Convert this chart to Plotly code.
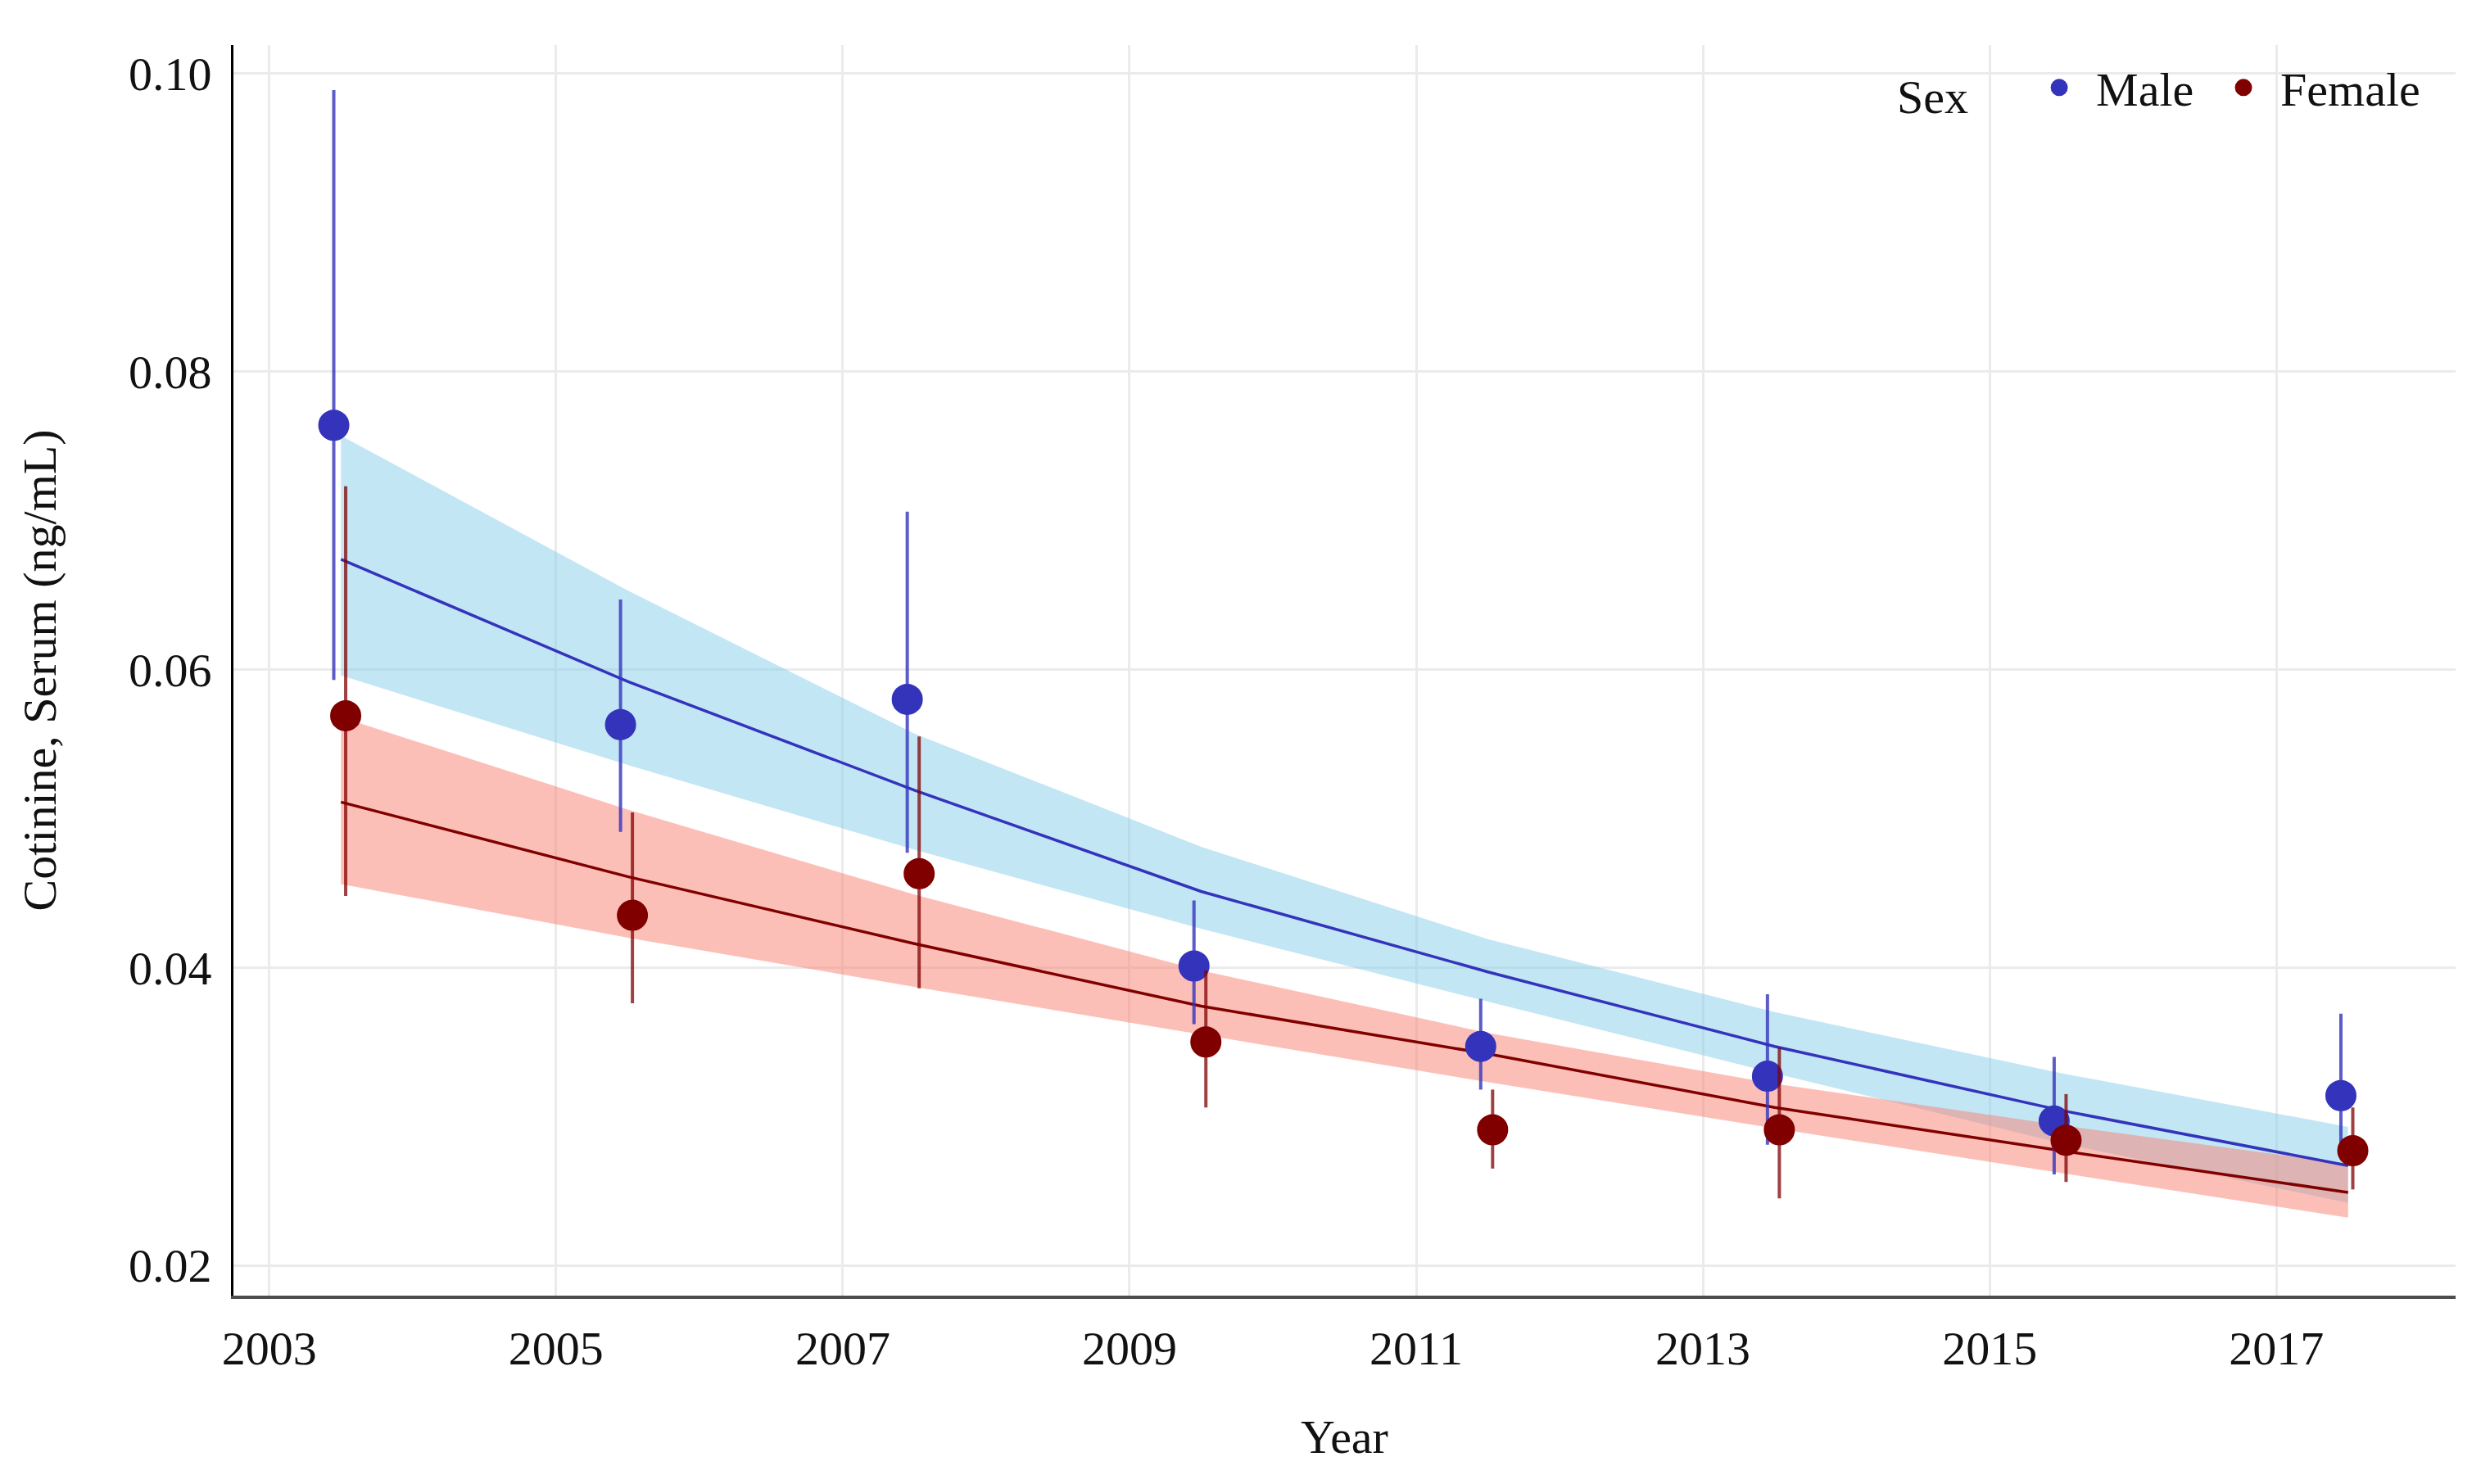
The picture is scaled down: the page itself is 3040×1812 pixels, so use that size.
import plotly.graph_objects as go

# ---- data ----
cycle_year = [2003.5, 2005.5, 2007.5, 2009.5, 2011.5, 2013.5, 2015.5, 2017.5]

male_mean = [0.0764, 0.0563, 0.0580, 0.0401, 0.0347, 0.0327, 0.0297, 0.0314]
male_hi   = [0.0989, 0.0647, 0.0706, 0.0445, 0.0379, 0.0382, 0.0340, 0.0369]
male_lo   = [0.0593, 0.0491, 0.0477, 0.0362, 0.0318, 0.0281, 0.0261, 0.0278]

female_mean = [0.0569, 0.0435, 0.0463, 0.0350, 0.0291, 0.0291, 0.0284, 0.0277]
female_hi   = [0.0723, 0.0504, 0.0555, 0.0398, 0.0318, 0.0346, 0.0315, 0.0306]
female_lo   = [0.0448, 0.0376, 0.0386, 0.0306, 0.0265, 0.0245, 0.0256, 0.0251]

male_fit    = [0.0674, 0.0592, 0.0519, 0.0451, 0.0397, 0.0347, 0.0304, 0.0267]
male_fit_lo = [0.0596, 0.0536, 0.0479, 0.0426, 0.0377, 0.0329, 0.0282, 0.0242]
male_fit_hi = [0.0757, 0.0653, 0.0557, 0.0481, 0.0419, 0.0370, 0.0329, 0.0293]

female_fit    = [0.0511, 0.0461, 0.0416, 0.0374, 0.0342, 0.0306, 0.0277, 0.0249]
female_fit_lo = [0.0456, 0.0420, 0.0387, 0.0355, 0.0323, 0.0292, 0.0262, 0.0232]
female_fit_hi = [0.0568, 0.0506, 0.0449, 0.0398, 0.0356, 0.0322, 0.0294, 0.0268]

x_ticks = [2003, 2005, 2007, 2009, 2011, 2013, 2015, 2017]
y_ticks = [0.02, 0.04, 0.06, 0.08, 0.10]

# ---- style ----
FONT = "Liberation Serif"
MALE = "rgb(51,51,187)"
FEMALE = "rgb(128,0,0)"
MALE_ERR = "rgba(51,51,187,0.8)"
FEMALE_ERR = "rgba(128,0,0,0.75)"
MALE_BAND = "rgba(135,206,235,0.5)"
FEMALE_BAND = "rgba(250,128,114,0.5)"
DODGE_M = -0.05
DODGE_F = 0.033

fig = go.Figure()

# confidence bands
for lo, hi, col in [(male_fit_lo, male_fit_hi, MALE_BAND),
                    (female_fit_lo, female_fit_hi, FEMALE_BAND)]:
    fig.add_trace(go.Scatter(x=cycle_year, y=lo, mode="lines",
                             line=dict(width=0, color=col), showlegend=False,
                             hoverinfo="skip"))
    fig.add_trace(go.Scatter(x=cycle_year, y=hi, mode="lines", fill="tonexty",
                             fillcolor=col, line=dict(width=0, color=col),
                             showlegend=False, hoverinfo="skip"))

# fitted lines
fig.add_trace(go.Scatter(x=cycle_year, y=male_fit, mode="lines",
                         line=dict(color=MALE, width=3.5), showlegend=False))
fig.add_trace(go.Scatter(x=cycle_year, y=female_fit, mode="lines",
                         line=dict(color=FEMALE, width=3.5), showlegend=False))

# points with error bars
def pts(mean, hi, lo, dodge, col, ecol, name, legend):
    return go.Scatter(
        x=[c + dodge for c in cycle_year], y=mean, mode="markers", name=name,
        legend=legend,
        marker=dict(color=col, size=33, line=dict(color=col, width=5)),
        error_y=dict(type="data", symmetric=False,
                     array=[h - m for h, m in zip(hi, mean)],
                     arrayminus=[m - l for m, l in zip(mean, lo)],
                     color=ecol, thickness=4, width=0),
    )

fig.add_trace(pts(male_mean, male_hi, male_lo, DODGE_M, MALE, MALE_ERR, "Male", "legend"))
fig.add_trace(pts(female_mean, female_hi, female_lo, DODGE_F, FEMALE, FEMALE_ERR,
                  "Female", "legend2"))

fig.update_layout(
    width=3032, height=1804,
    paper_bgcolor="white", plot_bgcolor="white",
    margin=dict(l=277, r=42, t=47, b=230),
    font=dict(family=FONT, size=58, color="#111111"),
    legend=dict(orientation="h", x=0.8843, xanchor="right", y=0.995, yanchor="top",
                title=dict(text="Sex\u00a0\u00a0\u00a0\u00a0", side="left",
                           font=dict(size=58)),
                font=dict(size=58), bgcolor="rgba(0,0,0,0)", itemwidth=80),
    legend2=dict(orientation="h", x=0.986, xanchor="right", y=0.995, yanchor="top",
                 font=dict(size=58), bgcolor="rgba(0,0,0,0)", itemwidth=80),
    xaxis=dict(range=[2002.75, 2018.25], tickvals=x_ticks,
               ticktext=[str(v) for v in x_ticks],
               showgrid=True, gridcolor="#EBEBEB", gridwidth=3,
               zeroline=False, showline=True, linecolor="#4d4d4d", linewidth=4,
               ticks="outside", ticklen=10, tickcolor="rgba(0,0,0,0)",
               tickfont=dict(size=58),
               title=dict(text="Year", standoff=57, font=dict(size=58))),
    yaxis=dict(range=[0.01797, 0.10192], tickvals=y_ticks, tickformat=".2f",
               showgrid=True, gridcolor="#EBEBEB", gridwidth=3,
               zeroline=False, showline=True, linecolor="#000000", linewidth=3,
               ticks="outside", ticklen=12, tickcolor="rgba(0,0,0,0)",
               tickfont=dict(size=58),
               title=dict(text="Cotinine, Serum (ng/mL)", standoff=70,
                          font=dict(size=58))),
)

fig.write_html("out.html")
